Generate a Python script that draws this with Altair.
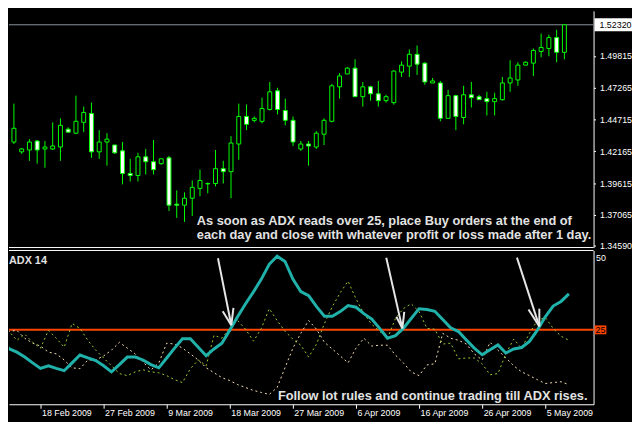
import altair as alt
import pandas as pd

# ---------------- data ----------------
K = list(range(73))
OPEN = [1.4354, 1.4291, 1.4212, 1.4227, 1.4299, 1.4235, 1.4235, 1.4251, 1.4394, 1.4362,
        1.4449, 1.4520, 1.4212, 1.4291, 1.4267, 1.4220, 1.4038, 1.4022, 1.4172, 1.4133,
        1.4117, 1.4164, 1.3792, 1.3784, 1.3840, 1.3919, 1.3955, 1.3958, 1.4077, 1.4053,
        1.4275, 1.4496, 1.4465, 1.4457, 1.4552, 1.4702, 1.4544, 1.4465, 1.4235, 1.4275,
        1.4251, 1.4354, 1.4457, 1.4734, 1.4837, 1.4884, 1.4655, 1.4734, 1.4678, 1.4623,
        1.4607, 1.4852, 1.4900, 1.4995, 1.4924, 1.4765, 1.4765, 1.4481, 1.4663, 1.4488,
        1.4670, 1.4655, 1.4639, 1.4615, 1.4631, 1.4765, 1.4789, 1.4908, 1.4924, 1.5018,
        1.5042, 1.5129, 1.5011]
HIGH = [1.4409, 1.4599, 1.4243, 1.4314, 1.4307, 1.4299, 1.4449, 1.4481, 1.4409, 1.4663,
        1.4575, 1.4607, 1.4386, 1.4362, 1.4267, 1.4291, 1.4156, 1.4204, 1.4235, 1.4307,
        1.4156, 1.4180, 1.3903, 1.3887, 1.3982, 1.4069, 1.3966, 1.4227, 1.4140, 1.4338,
        1.4599, 1.4591, 1.4496, 1.4647, 1.4773, 1.4726, 1.4639, 1.4496, 1.4299, 1.4299,
        1.4378, 1.4481, 1.4757, 1.4844, 1.4892, 1.4955, 1.4773, 1.4742, 1.4781, 1.4670,
        1.4868, 1.4939, 1.5034, 1.5066, 1.4931, 1.4805, 1.4781, 1.4710, 1.4670, 1.4742,
        1.4773, 1.4670, 1.4694, 1.4686, 1.4813, 1.4947, 1.4931, 1.4939, 1.5042, 1.5161,
        1.5153, 1.5192, 1.5232]
LOW = [1.4133, 1.4275, 1.4196, 1.4140, 1.4117, 1.4085, 1.4227, 1.4140, 1.4370, 1.4354,
       1.4370, 1.4164, 1.4156, 1.4101, 1.4196, 1.3951, 1.3974, 1.3974, 1.4030, 1.4030,
       1.4109, 1.3737, 1.3682, 1.3650, 1.3697, 1.3856, 1.3879, 1.3935, 1.3958, 1.3840,
       1.4148, 1.4386, 1.4449, 1.4441, 1.4544, 1.4512, 1.4425, 1.4259, 1.4220, 1.4101,
       1.4235, 1.4267, 1.4449, 1.4639, 1.4837, 1.4655, 1.4575, 1.4623, 1.4575, 1.4607,
       1.4591, 1.4813, 1.4813, 1.4829, 1.4750, 1.4765, 1.4457, 1.4481, 1.4386, 1.4433,
       1.4568, 1.4631, 1.4504, 1.4504, 1.4623, 1.4694, 1.4742, 1.4908, 1.4821, 1.4971,
       1.4979, 1.4931, 1.4955]
CLOSE = [1.4291, 1.4401, 1.4235, 1.4291, 1.4227, 1.4251, 1.4259, 1.4425, 1.4370, 1.4457,
         1.4528, 1.4212, 1.4291, 1.4314, 1.4204, 1.4038, 1.4022, 1.4172, 1.4133, 1.4069,
         1.4156, 1.3784, 1.3784, 1.3840, 1.3927, 1.3982, 1.3958, 1.4077, 1.4053, 1.4283,
         1.4496, 1.4433, 1.4481, 1.4560, 1.4694, 1.4552, 1.4465, 1.4291, 1.4275, 1.4259,
         1.4362, 1.4465, 1.4742, 1.4821, 1.4884, 1.4655, 1.4734, 1.4678, 1.4623, 1.4655,
         1.4860, 1.4908, 1.4995, 1.4916, 1.4773, 1.4781, 1.4481, 1.4663, 1.4496, 1.4670,
         1.4647, 1.4631, 1.4615, 1.4639, 1.4765, 1.4805, 1.4908, 1.4931, 1.5026, 1.5050,
         1.5129, 1.5011, 1.5232]

ADX = [21.9, 18.5, 17.3, 15.6, 13.6, 11.7, 12.6, 11.7, 10.9, 13.6,
       16.3, 15.3, 14.4, 12.6, 10.5, 13.0, 15.6, 15.6, 14.6, 13.0,
       11.9, 15.3, 18.7, 21.9, 21.9, 19.0, 16.1, 18.4, 20.4, 24.9,
       29.6, 34.0, 38.1, 42.5, 47.6, 50.4, 48.6, 42.5, 38.2, 36.8,
       33.0, 29.7, 29.7, 31.3, 33.4, 32.8, 30.6, 28.7, 25.5, 22.1,
       23.0, 25.5, 28.9, 32.3, 32.0, 31.4, 28.6, 25.7, 24.4, 21.5,
       18.7, 16.4, 18.1, 19.8, 17.0, 18.4, 18.9, 21.0, 24.9, 29.5,
       33.2, 34.8, 37.4]
PLUS_DI = [19.4, 24.5, 21.4, 23.5, 20.7, 18.7, 24.8, 22.1, 19.0, 27.2,
           25.5, 21.4, 18.0, 15.3, 12.6, 9.9, 9.2, 10.5, 11.2, 10.5,
           10.2, 9.2, 7.8, 6.8, 11.6, 14.6, 12.6, 23.1, 22.1, 25.5,
           28.2, 25.2, 21.1, 25.5, 32.3, 28.2, 24.5, 21.8, 19.7, 15.6,
           20.1, 27.2, 33.0, 37.8, 41.8, 35.7, 30.6, 26.9, 24.5, 22.1,
           28.9, 32.3, 34.0, 31.3, 25.5, 25.2, 20.1, 20.4, 15.0, 15.3,
           15.3, 13.3, 9.5, 9.9, 16.7, 21.8, 18.7, 23.8, 28.2, 29.3,
           25.5, 22.8, 21.4]
MINUS_DI = [27.2, 24.5, 24.8, 22.1, 20.4, 19.4, 17.3, 16.7, 14.6, 11.9,
            11.6, 14.6, 14.6, 16.0, 18.0, 20.7, 18.7, 16.7, 13.9, 11.2,
            13.6, 20.4, 20.1, 18.7, 16.7, 14.6, 11.9, 10.2, 8.5, 7.5,
            6.1, 5.1, 4.1, 3.4, 2.7, 5.1, 11.9, 18.7, 23.8, 28.2,
            25.2, 20.7, 18.4, 16.0, 13.6, 18.7, 22.1, 19.4, 19.7, 19.7,
            16.3, 13.6, 10.5, 9.2, 12.9, 13.3, 23.8, 22.1, 21.4, 20.1,
            16.7, 14.6, 20.7, 18.0, 15.3, 12.6, 10.5, 9.2, 7.8, 6.5,
            6.8, 7.1, 6.1]

PRICE_TICKS = [1.49815, 1.47265, 1.44715, 1.42165, 1.39615, 1.37065, 1.34590]
BID = [1.52320]
BID_LABEL = ["1.52320"]
ADX_TICKS = [50]
LEVEL = [25]
LEVEL_LABEL = ["25"]
DATE_TICKS = [5, 13, 21, 29, 37, 45, 53, 61, 69]
DATE_LABELS = ["18 Feb 2009", "27 Feb 2009", "9 Mar 2009", "18 Mar 2009", "27 Mar 2009",
               "6 Apr 2009", "16 Apr 2009", "26 Apr 2009", "5 May 2009"]

# arrows (segments in bar-index / ADX units)
ARROW_X = [27.5, 28.1, 29.46, 48.84, 50.125, 51.125, 65.41, 66.875, 68.25]
ARROW_Y = [49.7, 31.4, 32.6, 49.9, 29.5, 31.2, 49.9, 32.0, 32.3]
ARROW_X2 = [29.19, 29.19, 29.19, 50.875, 50.875, 50.875, 68.25, 68.25, 68.25]
ARROW_Y2 = [26.6, 26.6, 26.6, 25.5, 25.5, 25.5, 26.2, 26.2, 26.2]

NOTE1 = "As soon as ADX reads over 25, place Buy orders at the end of\neach day and close with whatever profit or loss made after 1 day."
NOTE1_POS = [24.59, 1.3624]
NOTE2 = "Follow lot rules and continue trading till ADX rises."
NOTE2_POS = [35.1, 0.82]
PANEL_LABEL = "ADX 14"
PANEL_LABEL_POS = [1.0, 47.75]

# ---------------- styling ----------------
FONT = "Liberation Sans"
LIME = "#00FF00"
W = 593
XDOM = [1, 75.125]
PDOM = [1.3444, 1.5343]
ADOM = [-0.68, 52.38]

xs = alt.Scale(domain=XDOM, nice=False, zero=False)
ps = alt.Scale(domain=PDOM, nice=False, zero=False)
ascl = alt.Scale(domain=ADOM, nice=False, zero=False)

price_axis = alt.Axis(orient="right", values=PRICE_TICKS, format=".5f", labelColor="white",
                      labelFont=FONT, labelFontSize=9, tickColor="white", tickSize=2,
                      domainColor="white", labelPadding=4, grid=False, title=None,
                      labelOverlap=False, labelFlush=False, labelBound=False)
adx_axis = alt.Axis(orient="right", values=ADX_TICKS, labelColor="white", labelFont=FONT,
                    labelFontSize=9, tickSize=0, domainColor="white", labelPadding=2,
                    grid=False, title=None, labelFlush=False)
label_expr = ("[" + ",".join("'%s'" % s for s in DATE_LABELS) + "][indexof(["
              + ",".join(str(t) for t in DATE_TICKS) + "], datum.value)]")
date_axis = alt.Axis(values=DATE_TICKS, labelExpr=label_expr, labelAlign="left",
                     labelBaseline="top", labelPadding=0, labelOffset=1, tickSize=4,
                     tickColor="white", domainColor="white", labelColor="white",
                     labelFont=FONT, labelFontSize=9, grid=False, title=None,
                     labelOverlap=False, labelFlush=False, labelBound=False)

candles = pd.DataFrame(dict(k=K, open=OPEN, high=HIGH, low=LOW, close=CLOSE))
bid_df = pd.DataFrame(dict(p=BID, label=BID_LABEL))

bidline = alt.Chart(bid_df).mark_rule(color="#8A939C", strokeWidth=1).encode(
    y=alt.Y("p:Q", scale=ps, axis=price_axis))
wicks = alt.Chart(candles).mark_rule(color=LIME, strokeWidth=1, clip=True).encode(
    x=alt.X("k:Q", scale=xs, axis=None),
    y=alt.Y("low:Q", scale=ps, axis=price_axis),
    y2="high:Q")
bodies = alt.Chart(candles).mark_bar(width=4, stroke=LIME, strokeWidth=1, clip=True).encode(
    x=alt.X("k:Q", scale=xs, axis=None),
    y=alt.Y("open:Q", scale=ps, axis=price_axis),
    y2="close:Q",
    fill=alt.condition("datum.close < datum.open", alt.value("white"), alt.value("black")))
pborder = alt.Chart(bid_df).mark_rule(color="white", strokeWidth=1).encode(y=alt.value(240))
note1 = alt.Chart(pd.DataFrame(dict(k=[NOTE1_POS[0]], p=[NOTE1_POS[1]], t=[NOTE1]))).mark_text(
    align="left", baseline="alphabetic", font=FONT, fontSize=13, fontWeight="bold",
    color="#E2E2E2", lineBreak="\n", lineHeight=14).encode(
    x=alt.X("k:Q", scale=xs, axis=None), y=alt.Y("p:Q", scale=ps, axis=price_axis), text="t:N")
tag_rect = alt.Chart(bid_df).mark_rect(color="white", height=13).encode(
    x=alt.value(594), x2=alt.value(632), y=alt.Y("p:Q", scale=ps, axis=price_axis))
tag_text = alt.Chart(bid_df).mark_text(align="left", baseline="middle", font=FONT,
                                       fontSize=9, color="black").encode(
    x=alt.value(599), y=alt.Y("p:Q", scale=ps, axis=price_axis), text="label:N")

price = alt.layer(bidline, wicks, bodies, pborder, note1, tag_rect, tag_text).properties(
    width=W, height=240)

ind = pd.DataFrame(dict(k=K, adx=ADX, pdi=PLUS_DI, mdi=MINUS_DI))
lvl_df = pd.DataFrame(dict(v=LEVEL, label=LEVEL_LABEL))
arrows = pd.DataFrame(dict(x=ARROW_X, y=ARROW_Y, x2=ARROW_X2, y2=ARROW_Y2))

level = alt.Chart(lvl_df).mark_rule(color="#FF4500", strokeWidth=2).encode(
    y=alt.Y("v:Q", scale=ascl, axis=adx_axis))
mdi = alt.Chart(ind).mark_line(color="#F5DEB3", strokeWidth=1, strokeDash=[2, 3], clip=True).encode(
    x=alt.X("k:Q", scale=xs, axis=date_axis), y=alt.Y("mdi:Q", scale=ascl, axis=adx_axis))
pdi = alt.Chart(ind).mark_line(color="#9ACD32", strokeWidth=1, strokeDash=[2, 3], clip=True).encode(
    x=alt.X("k:Q", scale=xs, axis=date_axis), y=alt.Y("pdi:Q", scale=ascl, axis=adx_axis))
adx = alt.Chart(ind).mark_line(color="#20B2AA", strokeWidth=3, clip=True).encode(
    x=alt.X("k:Q", scale=xs, axis=date_axis), y=alt.Y("adx:Q", scale=ascl, axis=adx_axis))
atop = alt.Chart(lvl_df).mark_rule(color="white", strokeWidth=1).encode(y=alt.value(0))
arr = alt.Chart(arrows).mark_rule(color="#E6E6E6", strokeWidth=2).encode(
    x=alt.X("x:Q", scale=xs, axis=date_axis), y=alt.Y("y:Q", scale=ascl, axis=adx_axis),
    x2="x2:Q", y2="y2:Q")
plabel = alt.Chart(pd.DataFrame(dict(k=[PANEL_LABEL_POS[0]], v=[PANEL_LABEL_POS[1]], t=[PANEL_LABEL]))).mark_text(
    align="left", baseline="alphabetic", font=FONT, fontSize=11, fontWeight="bold",
    color="#E2E2E2").encode(
    x=alt.X("k:Q", scale=xs, axis=date_axis), y=alt.Y("v:Q", scale=ascl, axis=adx_axis), text="t:N")
note2 = alt.Chart(pd.DataFrame(dict(k=[NOTE2_POS[0]], v=[NOTE2_POS[1]], t=[NOTE2]))).mark_text(
    align="left", baseline="alphabetic", font=FONT, fontSize=13, fontWeight="bold",
    color="#E2E2E2").encode(
    x=alt.X("k:Q", scale=xs, axis=date_axis), y=alt.Y("v:Q", scale=ascl, axis=adx_axis), text="t:N")
lvl_rect = alt.Chart(lvl_df).mark_rect(color="#FF4500", height=9).encode(
    x=alt.value(594), x2=alt.value(606), y=alt.Y("v:Q", scale=ascl, axis=adx_axis))
lvl_text = alt.Chart(lvl_df).mark_text(align="left", baseline="middle", font=FONT,
                                       fontSize=9, color="black").encode(
    x=alt.value(595), y=alt.Y("v:Q", scale=ascl, axis=adx_axis), text="label:N")

adx_panel = alt.layer(level, mdi, pdi, adx, atop, arr, plabel, note2, lvl_rect, lvl_text).properties(
    width=W, height=156)

chart = alt.vconcat(price, adx_panel, spacing=3, bounds="flush").resolve_scale(
    x="independent", y="independent").properties(
    background="black", padding={"left": 0, "top": 0, "right": 0, "bottom": 2}).configure_view(
    stroke=None)

chart.save("out.html", embed_options={"renderer": "svg", "actions": False})
